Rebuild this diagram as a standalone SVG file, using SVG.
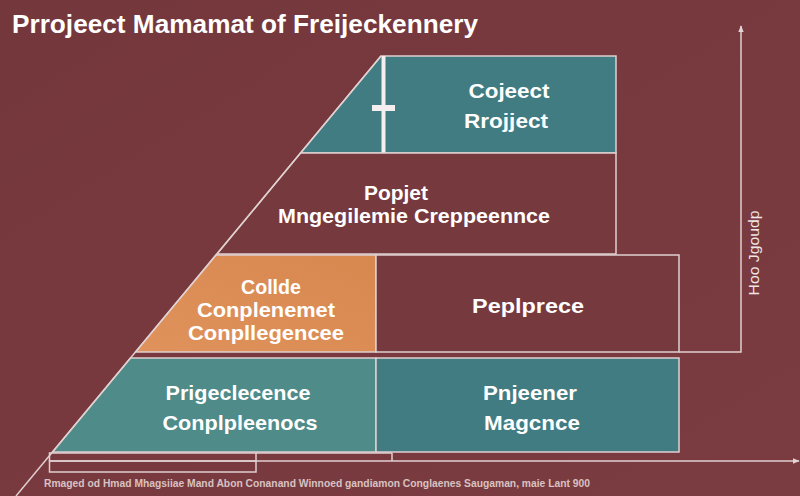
<svg xmlns="http://www.w3.org/2000/svg" width="800" height="496" viewBox="0 0 800 496">
  <defs>
    <linearGradient id="bg" x1="0" y1="0" x2="1" y2="1">
      <stop offset="0" stop-color="#74373c"/>
      <stop offset="1" stop-color="#7b3c41"/>
    </linearGradient>
    <linearGradient id="orange" x1="0" y1="1" x2="1" y2="0">
      <stop offset="0" stop-color="#e0925c"/>
      <stop offset="1" stop-color="#d7884f"/>
    </linearGradient>
    <marker id="arrow" viewBox="0 0 10 10" refX="9" refY="5" markerWidth="7" markerHeight="7" orient="auto" markerUnits="userSpaceOnUse">
      <path d="M0,1 L10,5 L0,9 z" fill="#e2d4d4"/>
    </marker>
    <style>
      .edge { stroke: #e0d0d0; stroke-width: 1.5; fill: none; }
      .lbl { font-family: "Liberation Sans", Arial, sans-serif; font-weight: 700; font-size: 21px; fill: #ffffff; text-anchor: middle; }
      .tight { font-size: 20px; }
      .teal { fill: #417c82; }
      .teal2 { fill: #4e8b89; }
      .red { fill: #76393e; }
    </style>
  </defs>
  <rect width="800" height="496" fill="url(#bg)"/>

  <text x="12" y="33" font-family="'Liberation Sans', Arial, sans-serif" font-weight="700" font-size="25" fill="#ffffff" textLength="466" lengthAdjust="spacingAndGlyphs">Prrojeect Mamamat of Freijeckennery</text>

  <g id="node-top">
    <polygon points="381,56 616,56 616,153 300.5,153" class="teal"/>
    <polygon points="381,56 616,56 616,153 300.5,153" class="edge"/>
    <rect x="381.5" y="56" width="4" height="97" fill="#f4eeee"/>
    <rect x="372" y="105" width="23" height="6" fill="#f4eeee"/>
    <text class="lbl" x="509" y="98" font-size="22" textLength="81" lengthAdjust="spacingAndGlyphs">Cojeect</text>
    <text class="lbl" x="506" y="128" font-size="22" textLength="84" lengthAdjust="spacingAndGlyphs">Rrojject</text>
  </g>

  <g id="node-second">
    <polygon points="300.5,153 616,153 616,254 217,254" class="red"/>
    <polygon points="300.5,153 616,153 616,254 217,254" class="edge"/>
    <text class="lbl tight" x="396" y="200" textLength="64" lengthAdjust="spacingAndGlyphs">Popjet</text>
    <text class="lbl tight" x="414" y="223" textLength="272" lengthAdjust="spacingAndGlyphs">Mngegilemie Creppeennce</text>
  </g>

  <g id="node-third-left">
    <polygon points="216,255 376,255 376,352 135.5,352" fill="url(#orange)"/>
    <polygon points="216,255 376,255 376,352 135.5,352" class="edge"/>
    <text class="lbl tight" x="271" y="294" textLength="60" lengthAdjust="spacingAndGlyphs">Collde</text>
    <text class="lbl tight" x="266" y="317" textLength="138" lengthAdjust="spacingAndGlyphs">Conplenemet</text>
    <text class="lbl tight" x="266" y="340" textLength="156" lengthAdjust="spacingAndGlyphs">Conpllegencee</text>
  </g>

  <g id="node-third-right">
    <rect x="376" y="255" width="303" height="97" class="red"/>
    <rect x="376" y="255" width="303" height="97" class="edge"/>
    <text class="lbl" x="528" y="313" textLength="112" lengthAdjust="spacingAndGlyphs">Peplprece</text>
  </g>

  <g id="node-fourth-left">
    <polygon points="130.5,358 376,358 376,452 52.5,452" class="teal2"/>
    <polygon points="130.5,358 376,358 376,452 52.5,452" class="edge"/>
    <text class="lbl" x="238" y="400" textLength="145" lengthAdjust="spacingAndGlyphs">Prigeclecence</text>
    <text class="lbl" x="240" y="430" textLength="155" lengthAdjust="spacingAndGlyphs">Conplpleenocs</text>
  </g>

  <g id="node-fourth-right">
    <rect x="376" y="358" width="303" height="94" class="teal"/>
    <rect x="376" y="358" width="303" height="94" class="edge"/>
    <text class="lbl" x="530" y="400" textLength="94" lengthAdjust="spacingAndGlyphs">Pnjeener</text>
    <text class="lbl" x="532" y="430" textLength="96" lengthAdjust="spacingAndGlyphs">Magcnce</text>
  </g>

  <g id="base-boxes">
    <rect x="49.5" y="453" width="206.5" height="8" class="edge"/>
    <rect x="49.5" y="461" width="206.5" height="11" class="edge"/>
  </g>

  <g id="connectors">
    <line x1="381" y1="56" x2="16" y2="496" class="edge"/>
    <line x1="256" y1="453" x2="392" y2="453" class="edge"/>
    <line x1="392" y1="453" x2="392" y2="461" class="edge"/>
    <line x1="256" y1="461" x2="799" y2="461" class="edge" marker-end="url(#arrow)"/>
    <polyline points="679,352 741,352 741,26" class="edge" marker-end="url(#arrow)"/>
  </g>

  <text transform="translate(759,253) rotate(-90)" x="0" y="0" font-family="'Liberation Sans', sans-serif" font-size="15" fill="#f0e6e6" text-anchor="middle" textLength="85" lengthAdjust="spacingAndGlyphs">Hoo Jgoudp</text>

  <text x="44" y="487" font-family="'Liberation Sans', sans-serif" font-weight="700" font-size="10.5" fill="#d8c2c2" textLength="546" lengthAdjust="spacingAndGlyphs">Rmaged od Hmad Mhagsiiae Mand Abon Conanand Winnoed gandiamon Conglaenes Saugaman, maie Lant 900</text>
</svg>
